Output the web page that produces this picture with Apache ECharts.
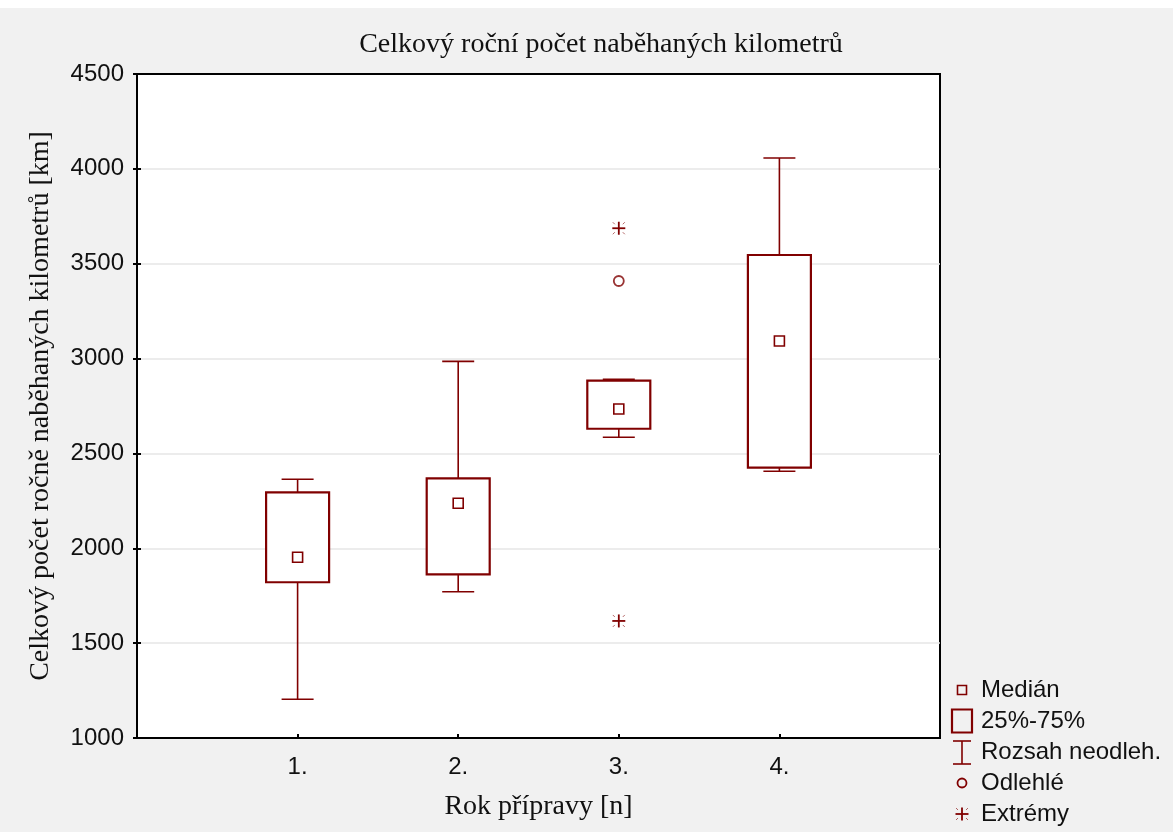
<!DOCTYPE html>
<html>
<head>
<meta charset="utf-8">
<script src="https://cdn.jsdelivr.net/npm/echarts@6/dist/echarts.min.js"></script>
<style>
html,body{margin:0;padding:0;background:#f1f1f1;}
#chart{width:1173px;height:832px;}
</style>
</head>
<body>
<div id="chart"></div>
<script>
// ---- data ----
const categories = [1, 2, 3, 4];
const tickLabels = ['1.', '2.', '3.', '4.'];
const whiskerLow  = [1204, 1771, 2585, 2406];
const q1          = [1821, 1863, 2630, 2425];
const medians     = [1953, 2237, 2734, 3093];
const q3          = [2295, 2369, 2884, 3546];
const whiskerHigh = [2364, 2985, 2891, 4057];
const outliers = [[3, 3409]];
const extremes = [[3, 3687], [3, 1617]];
const legendLabels = ['Medián', '25%-75%', 'Rozsah neodleh.', 'Odlehlé', 'Extrémy'];
const titleText = 'Celkový roční počet naběhaných kilometrů';
const yName = 'Celkový počet ročně naběhaných kilometrů [km]';
const xName = 'Rok přípravy [n]';

const RED = '#800000';
const SERIF = '"Liberation Serif", "Times New Roman", serif';
const SANS = '"Liberation Sans", Arial, sans-serif';
const boxData = categories.map((c, i) => [c, whiskerLow[i], q1[i], medians[i], q3[i], whiskerHigh[i]]);

function renderBox(params, api) {
  const x = api.value(0);
  const pLow = api.coord([x, api.value(1)]);
  const pQ1 = api.coord([x, api.value(2)]);
  const pMed = api.coord([x, api.value(3)]);
  const pQ3 = api.coord([x, api.value(4)]);
  const pHigh = api.coord([x, api.value(5)]);
  const halfBox = 31.5, halfCap = 16, halfMed = 5;
  const cx = pQ1[0];
  return {
    type: 'group',
    children: [
      {type: 'line', shape: {x1: cx, y1: pQ3[1], x2: cx, y2: pHigh[1]}, style: {stroke: RED, lineWidth: 1.6}},
      {type: 'line', shape: {x1: cx, y1: pQ1[1], x2: cx, y2: pLow[1]}, style: {stroke: RED, lineWidth: 1.6}},
      {type: 'line', shape: {x1: cx - halfCap, y1: pHigh[1], x2: cx + halfCap, y2: pHigh[1]}, style: {stroke: RED, lineWidth: 1.6}},
      {type: 'line', shape: {x1: cx - halfCap, y1: pLow[1], x2: cx + halfCap, y2: pLow[1]}, style: {stroke: RED, lineWidth: 1.6}},
      {type: 'rect', shape: {x: cx - halfBox, y: pQ3[1], width: 2 * halfBox, height: pQ1[1] - pQ3[1]}, style: {fill: '#fff', stroke: RED, lineWidth: 2.2}},
      {type: 'rect', shape: {x: cx - halfMed, y: pMed[1] - halfMed, width: 2 * halfMed, height: 2 * halfMed}, style: {fill: '#fff', stroke: RED, lineWidth: 1.6}}
    ]
  };
}

function starChildren(cx, cy) {
  const h = 6.5;
  return [
    {type: 'line', shape: {x1: cx - h, y1: cy, x2: cx + h, y2: cy}, style: {stroke: RED, lineWidth: 1.8}},
    {type: 'line', shape: {x1: cx, y1: cy - h, x2: cx, y2: cy + h}, style: {stroke: RED, lineWidth: 1.8}},
    {type: 'line', shape: {x1: cx - 6, y1: cy - 6, x2: cx - 4, y2: cy - 4}, style: {stroke: RED, lineWidth: 1, opacity: 0.6}},
    {type: 'line', shape: {x1: cx + 6, y1: cy - 6, x2: cx + 4, y2: cy - 4}, style: {stroke: RED, lineWidth: 1, opacity: 0.6}},
    {type: 'line', shape: {x1: cx - 6, y1: cy + 6, x2: cx - 4, y2: cy + 4}, style: {stroke: RED, lineWidth: 1, opacity: 0.6}},
    {type: 'line', shape: {x1: cx + 6, y1: cy + 6, x2: cx + 4, y2: cy + 4}, style: {stroke: RED, lineWidth: 1, opacity: 0.6}}
  ];
}

function renderStar(params, api) {
  const p = api.coord([api.value(0), api.value(1)]);
  return {type: 'group', children: starChildren(p[0], p[1])};
}

const legendFont = '24px "Liberation Sans", Arial, sans-serif';
const lx = 962, tx = 981;
const ly = [690, 721, 752, 783, 814];
const legendGraphics = [
  {type: 'rect', shape: {x: lx - 4.5, y: ly[0] - 4.5, width: 9, height: 9}, style: {fill: 'none', stroke: RED, lineWidth: 1.6}},
  {type: 'rect', shape: {x: lx - 10, y: ly[1] - 11.5, width: 20, height: 23}, style: {fill: 'none', stroke: RED, lineWidth: 2.2}},
  {type: 'line', shape: {x1: lx - 9, y1: ly[2] - 11, x2: lx + 9, y2: ly[2] - 11}, style: {stroke: RED, lineWidth: 1.6}},
  {type: 'line', shape: {x1: lx - 9, y1: ly[2] + 12, x2: lx + 9, y2: ly[2] + 12}, style: {stroke: RED, lineWidth: 1.6}},
  {type: 'line', shape: {x1: lx, y1: ly[2] - 11, x2: lx, y2: ly[2] + 12}, style: {stroke: RED, lineWidth: 1.6}},
  {type: 'circle', shape: {cx: lx, cy: ly[3], r: 4.5}, style: {fill: 'none', stroke: RED, lineWidth: 1.8}},
  {type: 'group', children: starChildren(lx, ly[4])}
].concat(legendLabels.map((t, i) => ({
  type: 'text', x: tx, y: ly[i],
  style: {text: t, font: legendFont, fill: '#111', textVerticalAlign: 'middle', textAlign: 'left'}
})));

const frameLine = {show: true, lineStyle: {color: '#000', width: 2}};
const chart = echarts.init(document.getElementById('chart'), null, {renderer: 'canvas'});
chart.setOption({
  backgroundColor: '#f1f1f1',
  animation: false,
  title: {
    text: titleText,
    left: 596, top: 26, textAlign: 'center',
    textStyle: {fontFamily: SERIF, fontWeight: 'normal', fontSize: 28, color: '#111'}
  },
  grid: {left: 137, top: 74, right: 233, bottom: 94, show: true, backgroundColor: '#fff', borderColor: '#000', borderWidth: 2, containLabel: false},
  xAxis: [{
    type: 'value', min: 0, max: 5, interval: 1,
    name: xName, nameLocation: 'middle', nameGap: 55,
    nameTextStyle: {fontFamily: SERIF, fontSize: 28, color: '#111'},
    axisLine: frameLine,
    axisTick: {show: true, inside: true, length: 4, lineStyle: {color: '#000', width: 2}},
    splitLine: {show: false},
    axisLabel: {
      margin: 17, color: '#111', fontSize: 24, fontFamily: SANS,
      formatter: v => { const i = categories.indexOf(v); return i >= 0 ? tickLabels[i] : ''; }
    }
  }, {
    type: 'value', min: 0, max: 5, interval: 1, position: 'top',
    axisLine: frameLine, axisTick: {show: false}, axisLabel: {show: false}, splitLine: {show: false}
  }],
  yAxis: [{
    type: 'value', min: 1000, max: 4500, interval: 500,
    name: yName, nameLocation: 'middle', nameGap: 82,
    nameTextStyle: {fontFamily: SERIF, fontSize: 28, color: '#111'},
    axisLine: frameLine,
    axisTick: {show: true, inside: true, length: 4, lineStyle: {color: '#000', width: 2}},
    splitLine: {show: true, showMinLine: false, showMaxLine: false, lineStyle: {color: '#e6e6e6', width: 1.5}},
    axisLabel: {margin: 13, color: '#111', fontSize: 24, fontFamily: SANS, formatter: v => String(v)}
  }, {
    type: 'value', min: 1000, max: 4500, interval: 500, position: 'right',
    axisLine: frameLine,
    axisTick: {show: true, inside: true, length: 4, lineStyle: {color: '#000', width: 2}},
    splitLine: {show: false},
    axisLabel: {show: false}
  }],
  graphic: [{type: 'rect', shape: {x: 0, y: 0, width: 1173, height: 8}, style: {fill: '#fff'}, z: -1}].concat(legendGraphics),
  series: [
    {type: 'custom', name: 'box', renderItem: renderBox, data: boxData, encode: {x: 0, y: [1, 2, 3, 4, 5]}, z: 3},
    {type: 'scatter', name: 'Odlehlé', data: outliers, symbol: 'circle', symbolSize: 10,
     itemStyle: {color: '#fff', borderColor: RED, borderWidth: 1.8}, z: 4},
    {type: 'custom', name: 'Extrémy', renderItem: renderStar, data: extremes, encode: {x: 0, y: 1}, z: 4}
  ]
});
</script>
</body>
</html>
